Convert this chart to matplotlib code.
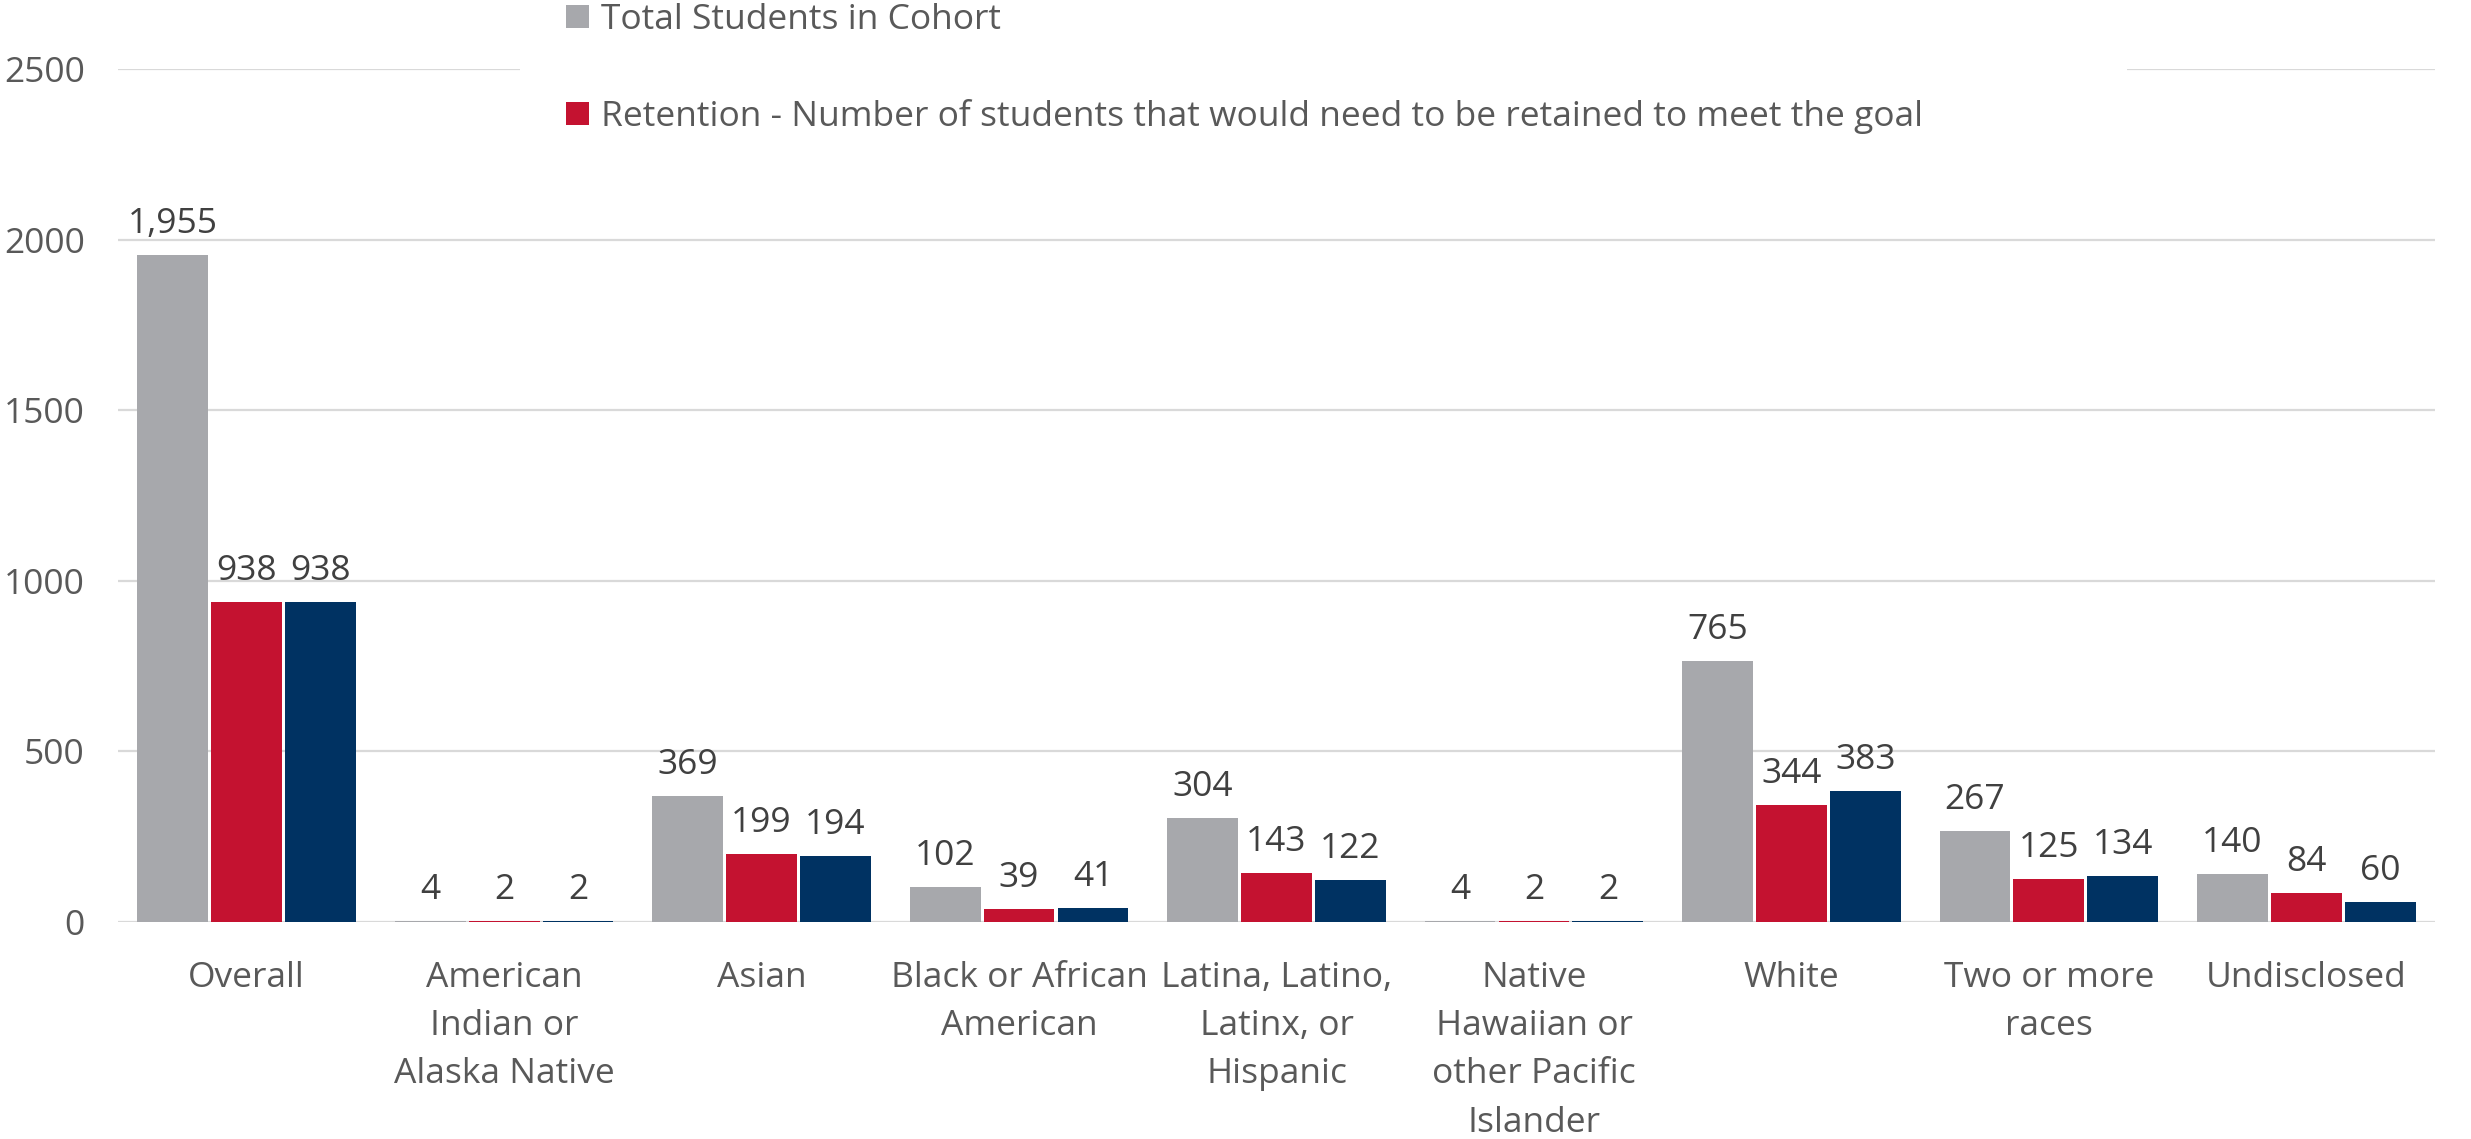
import matplotlib
matplotlib.use("Agg")
import matplotlib.pyplot as plt
import numpy as np
from matplotlib.patches import Rectangle

plt.rcParams['font.family'] = ['Open Sans', 'DejaVu Sans']

categories = ["Overall", "American\nIndian or\nAlaska Native", "Asian", "Black or African\nAmerican",
              "Latina, Latino,\nLatinx, or\nHispanic", "Native\nHawaiian or\nother Pacific\nIslander",
              "White", "Two or more\nraces", "Undisclosed"]
total = [1955, 4, 369, 102, 304, 4, 765, 267, 140]
retention = [938, 2, 199, 39, 143, 2, 344, 125, 84]
third = [938, 2, 194, 41, 122, 2, 383, 134, 60]
series_labels = ["Total Students in Cohort",
                 "Retention - Number of students that would need to be retained to meet the goal",
                 "_nolegend_"]
colors = ["#A7A8AC", "#C41230", "#003262"]
yticks = [0, 500, 1000, 1500, 2000, 2500]

W, H = 2471, 1139
fig = plt.figure(figsize=(W / 100, H / 100), dpi=100)
ax = fig.add_axes([118 / W, 1 - 922 / H, (2435 - 118) / W, (922 - 69) / H])

x = np.arange(len(categories))
bw = 0.275
step = 0.287
fs = 25.5
txtc = "#595959"
for i, (vals, lab, col) in enumerate(zip([total, retention, third], series_labels, colors)):
    bars = ax.bar(x + (i - 1) * step, vals, width=bw, color=col, label=lab, zorder=3)
    for b, v in zip(bars, vals):
        s = f"{v:,}"
        ax.annotate(s, (b.get_x() + b.get_width() / 2, b.get_height()), xytext=(0, 10),
                    textcoords="offset points", ha="center", va="bottom",
                    fontsize=fs, color="#404040", zorder=4)

ax.set_xlim(-0.5, len(categories) - 0.5)
ax.set_ylim(0, 2500)
ax.set_yticks(yticks)
ax.set_yticklabels([str(t) for t in yticks])
ax.set_xticks(x)
ax.set_xticklabels(categories, linespacing=1.55)
ax.tick_params(axis='y', length=0, pad=24, labelsize=fs, labelcolor=txtc)
ax.tick_params(axis='x', length=0, pad=28, labelsize=fs, labelcolor=txtc)
for sp in ax.spines.values():
    sp.set_visible(False)
ax.yaxis.grid(True, color="#D9D9D9", linewidth=1.6, zorder=0)
ax.set_axisbelow(True)

# white background of the legend area over the top gridline
fig.patches.append(Rectangle((520 / W, 1 - 135 / H), (2127 - 520) / W, 135 / H,
                             transform=fig.transFigure, facecolor="white",
                             edgecolor="none", zorder=5))

handles, labels = ax.get_legend_handles_labels()
leg = fig.legend(handles[:2], labels[:2], loc="upper left",
                 bbox_to_anchor=(566 / W, 1 - 3 / H), frameon=False,
                 fontsize=fs, labelcolor=txtc, handlelength=0.65, handleheight=0.65,
                 handletextpad=0.35, labelspacing=1.75, borderpad=0, borderaxespad=0)
leg.set_zorder(6)

fig.savefig("out.png", dpi=100)
